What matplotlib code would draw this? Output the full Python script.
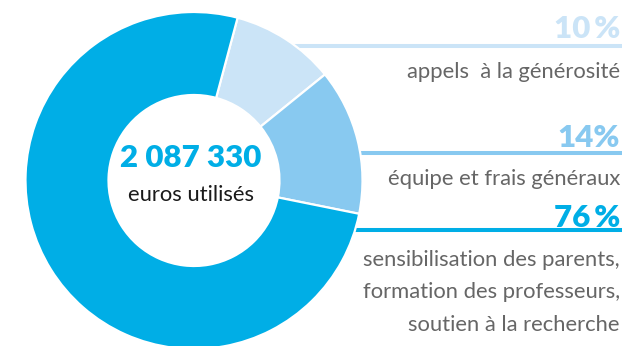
import matplotlib
matplotlib.use("Agg")
import matplotlib.pyplot as plt

# Budget breakdown
labels_pct = ["10\u2009%", "14%", "76\u2009%"]
shares = [10, 14, 76]
descriptions = [
    "appels  à la générosité",
    "équipe et frais généraux",
    "sensibilisation des parents,\nformation des professeurs,\nsoutien à la recherche",
]
colors = ["#cbe4f7", "#88c9f0", "#00aee6"]
total_label = "2 087 330"
total_caption = "euros utilisés"

plt.rcParams["font.family"] = ["Lato", "DejaVu Sans"]

W, H = 625, 346
fig = plt.figure(figsize=(W / 100, H / 100), dpi=100)
ax = fig.add_axes([0, 0, 1, 1])

cx, cy = 194, H - 180.5
R, r = 168.5, 85.5

ax.pie(shares, colors=colors, startangle=75, counterclock=False,
       center=(cx, cy), radius=R, frame=True,
       wedgeprops=dict(width=R - r, edgecolor="white", linewidth=1.6))
ax.set_xlim(0, W)
ax.set_ylim(0, H)
ax.set_aspect("equal")
ax.axis("off")

# leader rules to the right of the ring
rule_y = [H - 45.5, H - 152.5, H - 230]
rule_x0 = [288, 352, 350]
for y, x0, c in zip(rule_y, rule_x0, colors):
    ax.plot([x0, 622], [y, y], color=c, lw=2.9, solid_capstyle="butt", zorder=0)

pct_base = [H - 38, H - 147, H - 227]
desc_base = [H - 78, H - 185, H - 266]
text_grey = "#666666"
for p, d, pb, db, c in zip(labels_pct, descriptions, pct_base, desc_base, colors):
    ax.text(620, pb, p, ha="right", va="baseline", fontsize=22.5,
            fontweight="heavy", color=c)
    for i, line in enumerate(d.split("\n")):
        ax.text(620, db - i * 32.5, line, ha="right", va="baseline",
                fontsize=15.8, color=text_grey)

ax.text(cx - 3, H - 167, total_label, ha="center", va="baseline",
        fontsize=22.5, fontweight="heavy", color="#00aee6")
ax.text(cx - 3, H - 201, total_caption, ha="center", va="baseline",
        fontsize=15.8, color="#1a1a1a")

fig.savefig("out.png", dpi=100)
